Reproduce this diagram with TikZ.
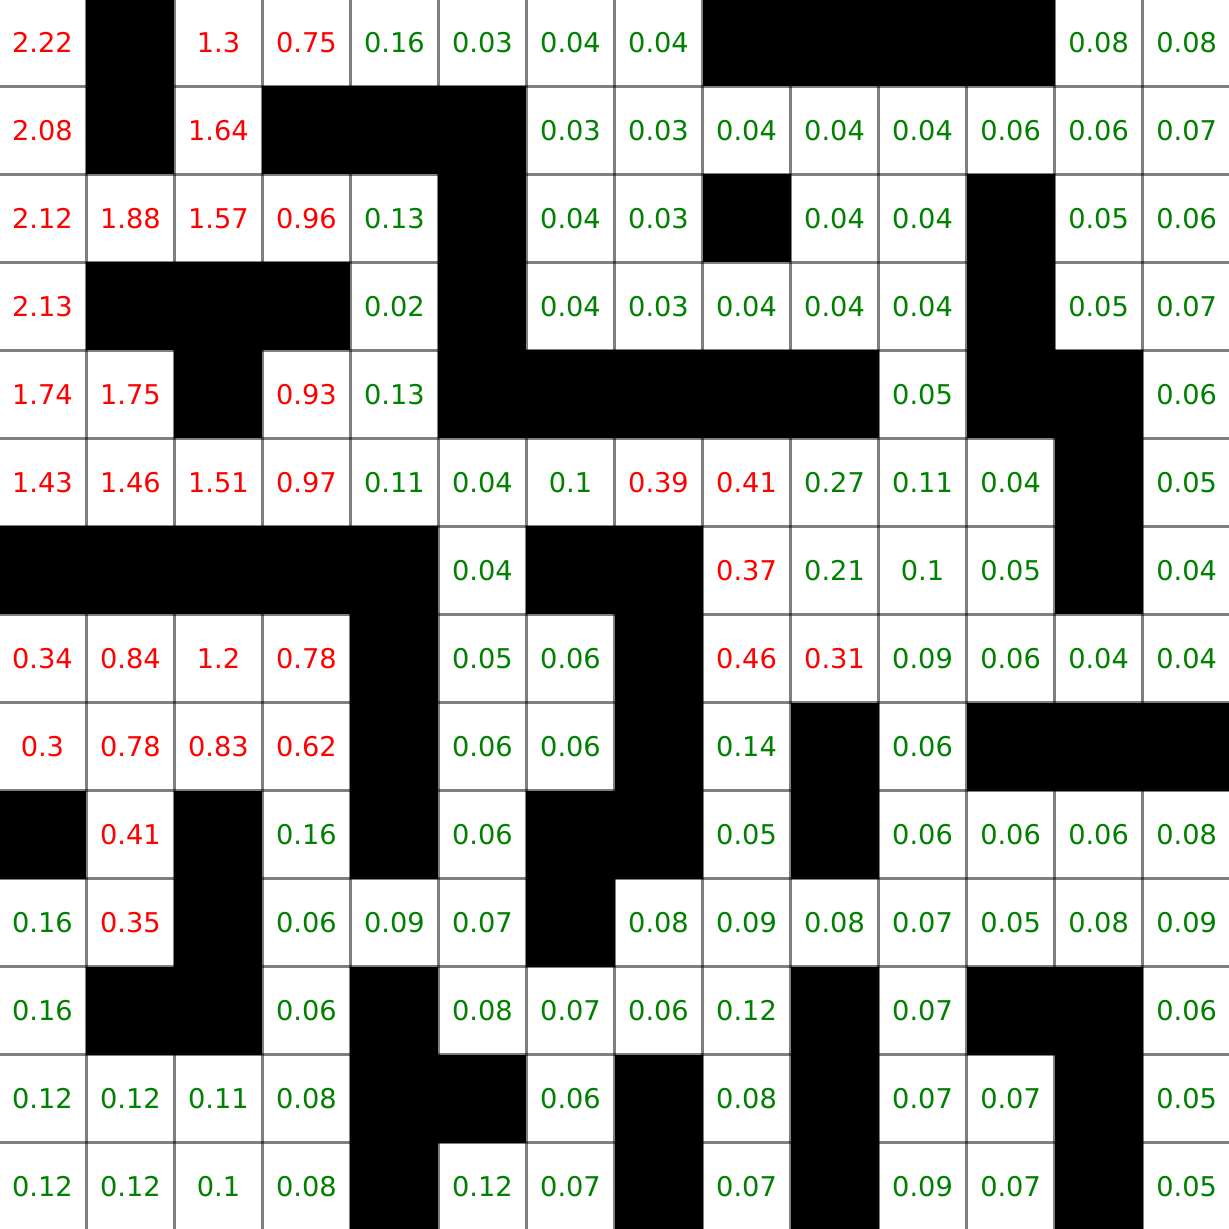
\documentclass[tikz,border=0pt]{standalone}
\usepackage{fontspec}
\setmainfont{DejaVu Sans}
\definecolor{cgreen}{RGB}{0,128,0}
\definecolor{cred}{RGB}{255,0,0}
\tikzset{
  cellbase/.style={minimum size=1cm, inner sep=0pt, outer sep=0pt, font=\fontsize{8.8}{10}\selectfont},
  cellB/.style={cellbase, fill=black, text=black},
  cellr/.style={cellbase, text=cred},
  cellg/.style={cellbase, text=cgreen},
  gridline/.style={black, opacity=0.5, line width=0.85pt}
}
\begin{document}
\begin{tikzpicture}
\useasboundingbox (0.018,0.018) rectangle (13.982,13.982);
\fill[white] (0,0) rectangle (14,14);
\foreach \row [count=\r] in {
 {r/2.22,B/,r/1.3,r/0.75,g/0.16,g/0.03,g/0.04,g/0.04,B/,B/,B/,B/,g/0.08,g/0.08},
 {r/2.08,B/,r/1.64,B/,B/,B/,g/0.03,g/0.03,g/0.04,g/0.04,g/0.04,g/0.06,g/0.06,g/0.07},
 {r/2.12,r/1.88,r/1.57,r/0.96,g/0.13,B/,g/0.04,g/0.03,B/,g/0.04,g/0.04,B/,g/0.05,g/0.06},
 {r/2.13,B/,B/,B/,g/0.02,B/,g/0.04,g/0.03,g/0.04,g/0.04,g/0.04,B/,g/0.05,g/0.07},
 {r/1.74,r/1.75,B/,r/0.93,g/0.13,B/,B/,B/,B/,B/,g/0.05,B/,B/,g/0.06},
 {r/1.43,r/1.46,r/1.51,r/0.97,g/0.11,g/0.04,g/0.1,r/0.39,r/0.41,g/0.27,g/0.11,g/0.04,B/,g/0.05},
 {B/,B/,B/,B/,B/,g/0.04,B/,B/,r/0.37,g/0.21,g/0.1,g/0.05,B/,g/0.04},
 {r/0.34,r/0.84,r/1.2,r/0.78,B/,g/0.05,g/0.06,B/,r/0.46,r/0.31,g/0.09,g/0.06,g/0.04,g/0.04},
 {r/0.3,r/0.78,r/0.83,r/0.62,B/,g/0.06,g/0.06,B/,g/0.14,B/,g/0.06,B/,B/,B/},
 {B/,r/0.41,B/,g/0.16,B/,g/0.06,B/,B/,g/0.05,B/,g/0.06,g/0.06,g/0.06,g/0.08},
 {g/0.16,r/0.35,B/,g/0.06,g/0.09,g/0.07,B/,g/0.08,g/0.09,g/0.08,g/0.07,g/0.05,g/0.08,g/0.09},
 {g/0.16,B/,B/,g/0.06,B/,g/0.08,g/0.07,g/0.06,g/0.12,B/,g/0.07,B/,B/,g/0.06},
 {g/0.12,g/0.12,g/0.11,g/0.08,B/,B/,g/0.06,B/,g/0.08,B/,g/0.07,g/0.07,B/,g/0.05},
 {g/0.12,g/0.12,g/0.1,g/0.08,B/,g/0.12,g/0.07,B/,g/0.07,B/,g/0.09,g/0.07,B/,g/0.05}}{%
  \foreach \t/\v [count=\c] in \row {
    \node[cell\t] (c-\r-\c) at ({\c-0.5},{14.5-\r}) {\v};
  }
}
\foreach \i in {1,...,13} {
  \draw[gridline] (\i,0) -- (\i,14);
  \draw[gridline] (0,\i) -- (14,\i);
}
\end{tikzpicture}
\end{document}
